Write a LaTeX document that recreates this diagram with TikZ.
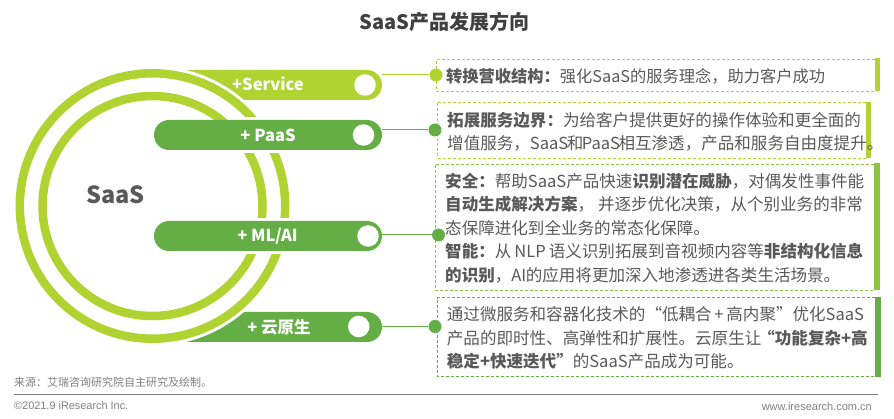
\documentclass[tikz,border=0pt]{standalone}
\usepackage{fontspec}
\usetikzlibrary{shapes.misc}
\setmainfont{Noto Sans CJK SC}
\newfontfamily\arialfont{Liberation Sans}
\definecolor{lightgrn}{HTML}{B0D332}
\definecolor{darkgrn}{HTML}{65AE46}
\definecolor{midgrn}{HTML}{8CC341}
\definecolor{txtgray}{HTML}{595959}
\definecolor{footgray}{HTML}{7F7F7F}
\begin{document}
\begin{tikzpicture}[x=1pt,y=-1pt,
    ring/.style={draw=lightgrn,line width=8.5pt},
    bar/.style={rounded rectangle,fill=#1,text=white,minimum height=30pt,inner sep=0pt,outer sep=0pt},
    hole/.style={circle,fill=white,minimum size=21.5pt,inner sep=0pt},
    dot/.style={circle,fill=#1,minimum size=13pt,inner sep=0pt},
    link/.style={draw=#1,line width=1pt},
    dashbox/.style={draw=#1,line width=.8pt,dash pattern=on 3pt off 2pt},
    boxtext/.style={anchor=west,inner sep=0pt,align=left,text=txtgray,font=\fontsize{16.55}{23.4}\selectfont},
    barlabel/.style={font=\fontsize{16.5}{18}\selectfont\bfseries}]
  \useasboundingbox (0,0) rectangle (894,419);
  \node (title) [font=\fontsize{20}{22}\selectfont\bfseries,text=black!75] at (444.5,22) {SaaS产品发展方向};

  \node (servicebar) [bar=lightgrn,minimum width=232pt] at (266,85) {};
  \node (cloudbar) [bar=darkgrn,minimum width=232pt] at (266,327) {};
  \fill[white] (152.5,206) circle (140);
  \path[ring] (152.5,206) circle (132.7);
  \path[ring] (152.5,206) circle (110);
  \fill[white] (240,117) rectangle (300,153.5);
  \fill[white] (240,218) rectangle (300,254);
  \node (paasbar) [bar=darkgrn,minimum width=228pt] at (268,135) {};
  \node (mlbar) [bar=darkgrn,minimum width=228pt] at (268,236) {};

  \node (servicelabel) [barlabel,text=white] at (268,84) {+Service};
  \node (paaslabel) [barlabel,text=white] at (268,135) {+ PaaS};
  \node (mllabel) [barlabel,text=white] at (267.5,236) {+ ML/AI};
  \node (cloudlabel) [barlabel,text=white] at (279,327) {+ 云原生};
  \node (saas) [font=\fontsize{23.5}{26}\selectfont\bfseries,text=txtgray] at (115.5,195) {SaaS};

  \node (servicehole) [hole] at (365,85) {};
  \node (paashole) [hole] at (363.5,135) {};
  \node (mlhole) [hole] at (368,236) {};
  \node (cloudhole) [hole] at (358.7,326.5) {};

  \draw[dashbox=lightgrn] (875,59.3) -- (436.7,59.3) -- (436.7,91.3) -- (875,91.3);
  \draw[dashbox=lightgrn] (866,102) -- (437.3,102) -- (437.3,158) -- (866,158);
  \draw[dashbox=midgrn] (874,164) -- (435,164) -- (435,290) -- (874,290);
  \draw[dashbox=darkgrn] (875,297.7) -- (437.3,297.7) -- (437.3,376.3) -- (875,376.3);
  \fill[lightgrn] (874.5,58) rectangle (879.5,91.5);
  \fill[lightgrn] (865.7,102) rectangle (870.7,158.5);
  \fill[midgrn] (874,163.5) rectangle (880,290.5);
  \fill[darkgrn] (875,297) rectangle (880.7,377);

  \node (servicedot) [dot=lightgrn] at (436,75) {};
  \node (paasdot) [dot=darkgrn] at (435,130) {};
  \node (mldot) [dot=darkgrn] at (438.5,235) {};
  \node (clouddot) [dot=darkgrn] at (435,326.5) {};
  \draw[link=lightgrn] (servicebar.east |- servicedot) -- (servicedot);
  \draw[link=darkgrn] (paasbar.east |- paasdot) -- (paasdot);
  \draw[link=darkgrn] (mlbar.east |- mldot) -- (mldot);
  \draw[link=darkgrn] (cloudbar.east |- clouddot) -- (clouddot);

  \node (servicetext) [boxtext,font=\fontsize{16.25}{23.4}\selectfont] at (446,76.5) {\textbf{转换营收结构：}强化SaaS的服务理念，助力客户成功};
  \node (paastext) [boxtext] at (447,132) {\textbf{拓展服务边界：}为给客户提供更好的操作体验和更全面的\\增值服务，SaaS\kern-1.5pt 和\kern-1.5pt PaaS\kern-1.5pt 相互渗透，产品和服务自由度提升。};
  \node (mltext) [boxtext] at (445,228) {\textbf{安全：}帮助SaaS产品快速\textbf{识别潜在威胁}，对偶发性事件能\\\textbf{自动生成解决方案}，\kern4pt 并逐步优化决策，从个别业务的非常\\态保障进化到全业务的常态化保障。\\\textbf{智能：}从\kern3pt NLP\kern3pt 语义识别拓展到音视频内容等\textbf{非结构化信息}\\\textbf{的识别}，AI\kern-.5pt 的应用将更加深入地渗透进各类生活场景。};
  \node (cloudtext) [boxtext] at (446.7,338) {通过微服务和容器化技术的“低耦合\,+\,高内聚”优化SaaS\\产品的即时性、高弹性和扩展性。云原生让\kern-3pt\textbf{“功能复杂+高}\\\textbf{稳定+快速迭代”}的SaaS产品成为可能。};

  \node (source) [anchor=west,inner sep=0pt,text=footgray,font=\fontsize{11}{12}\selectfont] at (14,382) {来源：艾瑞咨询研究院自主研究及绘制。};
  \draw[footgray,line width=.9pt] (14,394) coordinate (ruleL) -- (878,394) coordinate (ruleR);
  \node (copyright) [anchor=west,inner sep=0pt,text=footgray,font=\fontsize{10.9}{12}\selectfont\arialfont] at (14,406) {©2021.9 iResearch Inc.};
  \node (website) [anchor=east,inner sep=0pt,text=footgray,font=\fontsize{11}{12}\selectfont\arialfont] at (872,406.5) {www.iresearch.com.cn};
\end{tikzpicture}
\end{document}
